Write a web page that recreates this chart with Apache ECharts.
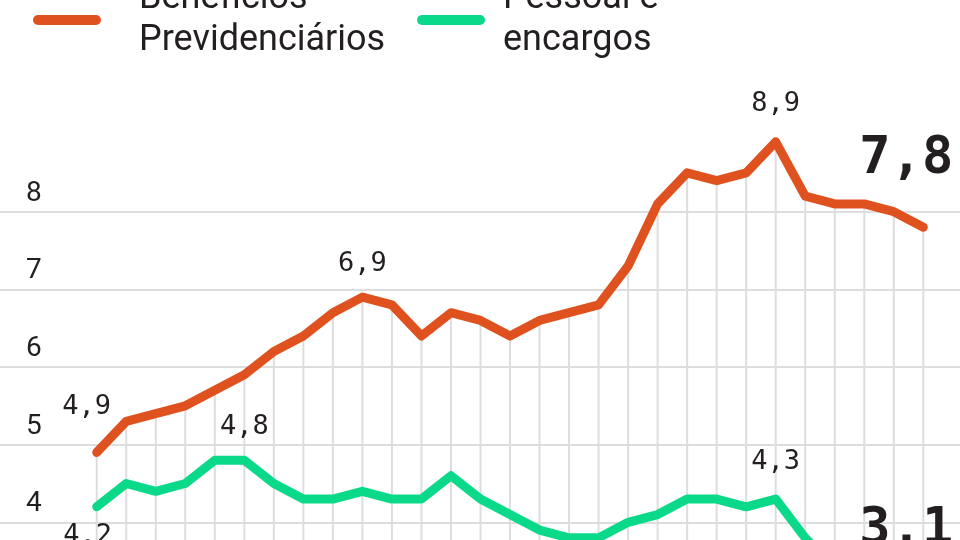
<!DOCTYPE html>
<html lang="pt-BR">
<head>
    <meta charset="UTF-8">
    <title>Benefícios Previdenciários x Pessoal e encargos</title>
    <script src="https://cdn.jsdelivr.net/npm/echarts@6.0.0/dist/echarts.min.js"></script>
    <style>
        html, body { margin: 0; padding: 0; background: #fff; overflow: hidden; }
        body { width: 960px; height: 540px; position: relative; }
        #chart { position: absolute; left: 0; top: -40px; width: 960px; height: 740px; }
    </style>
</head>
<body>
<div id="chart"></div>
<script>
    // valores (% )
    var beneficios = [4.9, 5.3, 5.4, 5.5, 5.7, 5.9, 6.2, 6.4, 6.7, 6.9, 6.8, 6.4, 6.7, 6.6, 6.4,
                      6.6, 6.7, 6.8, 7.3, 8.1, 8.5, 8.4, 8.5, 8.9, 8.2, 8.1, 8.1, 8.0, 7.8];
    var pessoal    = [4.2, 4.5, 4.4, 4.5, 4.8, 4.8, 4.5, 4.3, 4.3, 4.4, 4.3, 4.3, 4.6, 4.3, 4.1,
                      3.9, 3.8, 3.8, 4.0, 4.1, 4.3, 4.3, 4.2, 4.3, 3.8, 3.4, 3.3, 3.2, 3.1];
    var yTicks = [3, 4, 5, 6, 7, 8];

    var ORANGE = '#df5220';
    var GREEN = '#0bd98a';
    var INK = '#231f20';
    var GRID = '#dddddd';

    // rótulos: índice do ponto -> deslocamento do texto
    var beneficiosLabels = { 0: [-10, -45], 9: [0, -33], 23: [0, -38] };
    var pessoalLabels = { 0: [-9, 29], 5: [0, -33], 23: [0, -37] };

    function fmt(v) {
        return v.toFixed(1).replace('.', ',');
    }

    function buildPoints(values, labels, lastOffset) {
        var last = values.length - 1;
        return values.map(function (v, i) {
            var item = { value: [i, v] };
            if (labels[i]) {
                item.label = {
                    show: true, position: 'inside', offset: labels[i],
                    fontFamily: 'DejaVu Sans Mono', fontSize: 27, color: INK
                };
            } else if (i === last) {
                item.label = {
                    show: true, position: 'inside', offset: lastOffset,
                    fontFamily: 'DejaVu Sans Mono', fontWeight: 'bold', fontSize: 52, color: INK
                };
            }
            return item;
        });
    }

    function lineSeries(name, values, labels, lastOffset, color) {
        return {
            name: name,
            type: 'line',
            data: buildPoints(values, labels, lastOffset),
            clip: false,
            z: 3,
            symbol: 'circle',
            symbolSize: 2,
            showSymbol: true,
            itemStyle: { color: color },
            lineStyle: { color: color, width: 9, cap: 'round', join: 'round' },
            label: {
                show: false,
                formatter: function (p) { return fmt(p.value[1]); }
            }
        };
    }

    var legendIcon = 'path://M5,0 H63 A5,5 0 0 1 63,10 H5 A5,5 0 0 1 5,0 Z';

    function legendText(gap) {
        return {
            fontFamily: 'Roboto', fontSize: 36, lineHeight: 42, color: INK,
            padding: [0, 0, 0, gap]
        };
    }

    var legendNames = {
        'Benefícios Previdenciários': 'Benefícios\nPrevidenciários',
        'Pessoal e encargos': 'Pessoal e\nencargos'
    };

    var chart = echarts.init(document.getElementById('chart'));

    var option = {
        animation: false,
        backgroundColor: '#ffffff',
        legend: [
            {
                data: ['Benefícios Previdenciários'], left: 33, top: 18, padding: 0,
                icon: legendIcon, itemWidth: 68, itemHeight: 10,
                selectedMode: false, textStyle: legendText(33),
                formatter: function (n) { return legendNames[n]; }
            },
            {
                data: ['Pessoal e encargos'], left: 417, top: 18, padding: 0,
                icon: legendIcon, itemWidth: 68, itemHeight: 10,
                selectedMode: false, textStyle: legendText(13),
                formatter: function (n) { return legendNames[n]; }
            }
        ],
        grid: { left: 0, right: 0, top: 251.7, bottom: 100 },
        xAxis: {
            type: 'value',
            min: -3.276,
            max: 29.243,
            show: false
        },
        yAxis: {
            type: 'value',
            min: yTicks[0],
            max: yTicks[yTicks.length - 1],
            interval: 1,
            axisLine: { show: false },
            axisTick: { show: false },
            axisLabel: {
                inside: true, margin: 26, verticalAlign: 'bottom',
                padding: [0, 0, 4, 0],
                fontFamily: 'Roboto', fontSize: 28, color: INK
            },
            splitLine: { lineStyle: { color: GRID, width: 2 } }
        },
        series: [
            {
                // linhas verticais da grade, descem a partir da curva laranja
                name: 'grade',
                type: 'bar',
                barWidth: 2,
                clip: false,
                z: 1,
                silent: true,
                itemStyle: { color: GRID },
                data: beneficios.map(function (v, i) { return [i, v]; })
            },
            lineSeries('Benefícios Previdenciários', beneficios, beneficiosLabels, [-17, -68], ORANGE),
            lineSeries('Pessoal e encargos', pessoal, pessoalLabels, [-17, -62], GREEN)
        ]
    };

    chart.setOption(option);
</script>
</body>
</html>
